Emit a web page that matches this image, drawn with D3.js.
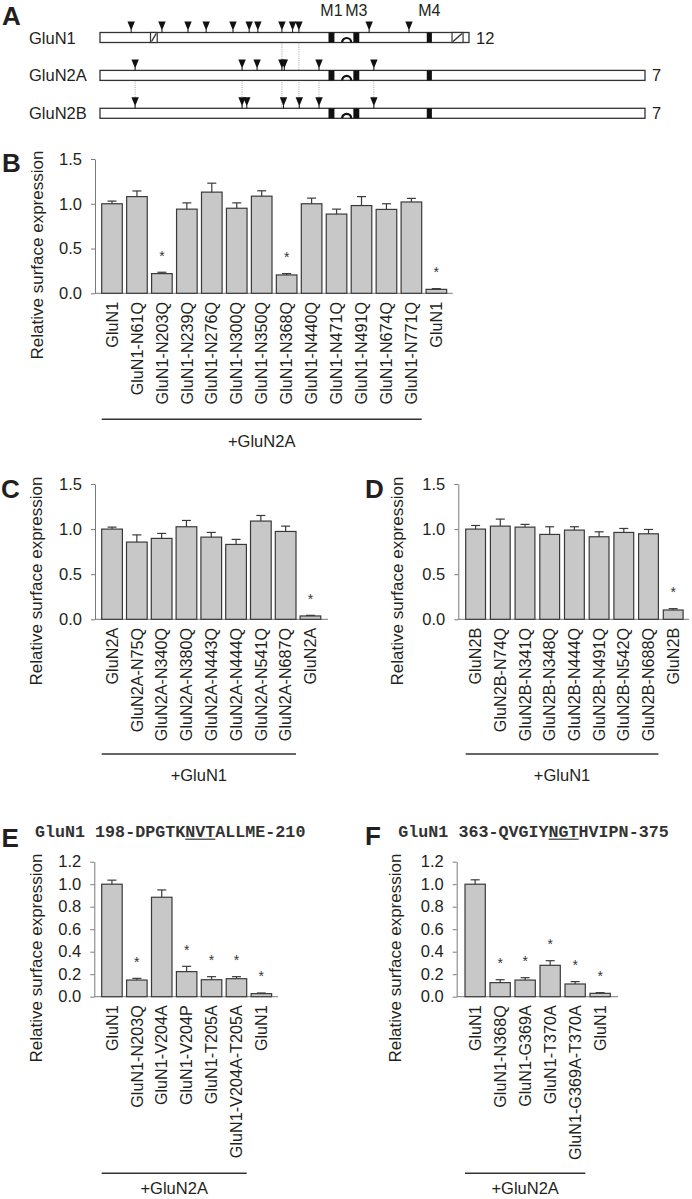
<!DOCTYPE html>
<html><head><meta charset="utf-8">
<script src="https://cdn.jsdelivr.net/npm/d3@7"></script>
<style>
body{margin:0;background:#fff}
svg{display:block}
</style>
</head><body><svg id="c" width="692" height="1199" font-family="'Liberation Sans', Arial, sans-serif" fill="#231f20"></svg>
<script>
// ---------- Panel A (schematic, positions in aligned residue units) ----------
const subunits = ["GluN1", "GluN2A", "GluN2B"];
const subunitLength = [935, 1381, 1381];
const glun1Sites = [79, 157, 223, 269, 337, 378, 400, 461, 488, 504, 682, 783];
const glun2aSites = [89, 360, 398, 461, 467, 555, 694];
const glun2bSites = [89, 360, 372, 465, 505, 555, 694];
const tmSegments = [["M1", 579, 594], ["M3", 642, 657], ["M4", 828, 841]];
const poreLoop = [611, 639];
const glun1Cassettes = [[128, 145], [892, 920]];
const alignLines = [[89, 1, 2], [360, 1, 2], [461, 0, 2], [504, 0, 2], [555, 1, 2], [694, 1, 2]];

// ---------- Panel B ----------
const bCategories = ["GluN1","GluN1-N61Q","GluN1-N203Q","GluN1-N239Q","GluN1-N276Q","GluN1-N300Q","GluN1-N350Q","GluN1-N368Q","GluN1-N440Q","GluN1-N471Q","GluN1-N491Q","GluN1-N674Q","GluN1-N771Q","GluN1"];
const bValues = [1.00, 1.08, 0.22, 0.94, 1.13, 0.95, 1.085, 0.205, 1.00, 0.885, 0.98, 0.937, 1.02, 0.044];
const bErrors = [0.03, 0.063, 0.015, 0.07, 0.10, 0.06, 0.06, 0.015, 0.063, 0.055, 0.10, 0.063, 0.04, 0.008];
const bSig = [0,0,1,0,0,0,0,1,0,0,0,0,0,1];

// ---------- Panel C ----------
const cCategories = ["GluN2A","GluN2A-N75Q","GluN2A-N340Q","GluN2A-N380Q","GluN2A-N443Q","GluN2A-N444Q","GluN2A-N541Q","GluN2A-N687Q","GluN2A"];
const cValues = [1.00, 0.856, 0.897, 1.026, 0.911, 0.830, 1.089, 0.974, 0.037];
const cErrors = [0.022, 0.08, 0.055, 0.07, 0.052, 0.056, 0.062, 0.059, 0.007];
const cSig = [0,0,0,0,0,0,0,0,1];

// ---------- Panel D ----------
const dCategories = ["GluN2B","GluN2B-N74Q","GluN2B-N341Q","GluN2B-N348Q","GluN2B-N444Q","GluN2B-N491Q","GluN2B-N542Q","GluN2B-N688Q","GluN2B"];
const dValues = [1.00, 1.033, 1.022, 0.941, 0.989, 0.915, 0.963, 0.948, 0.103];
const dErrors = [0.04, 0.078, 0.03, 0.085, 0.037, 0.055, 0.044, 0.048, 0.015];
const dSig = [0,0,0,0,0,0,0,0,1];

// ---------- Panel E ----------
const eCategories = ["GluN1","GluN1-N203Q","GluN1-V204A","GluN1-V204P","GluN1-T205A","GluN1-V204A-T205A","GluN1"];
const eValues = [1.00, 0.148, 0.884, 0.223, 0.151, 0.160, 0.027];
const eErrors = [0.036, 0.015, 0.065, 0.047, 0.027, 0.018, 0.006];
const eSig = [0,1,0,1,1,1,1];
const eTitle = ["GluN1 198-DPGTK", "NVT", "ALLME-210"];

// ---------- Panel F ----------
const fCategories = ["GluN1","GluN1-N368Q","GluN1-G369A","GluN1-T370A","GluN1-G369A-T370A","GluN1"];
const fValues = [1.00, 0.125, 0.148, 0.279, 0.113, 0.030];
const fErrors = [0.039, 0.026, 0.021, 0.041, 0.021, 0.006];
const fSig = [0,1,1,1,1,1];
const fTitle = ["GluN1 363-QVGIY", "NGT", "HVIPN-375"];

const ticks15 = [0, 0.5, 1.0, 1.5];
const ticks12 = [0, 0.2, 0.4, 0.6, 0.8, 1.0, 1.2];
const yTitle = "Relative surface expression";

const svg = d3.select("#c");
const SANS = "'Liberation Sans', Arial, sans-serif";
const MONO = "'Liberation Mono', 'Courier New', monospace";
const INK = "#231f20", AX = "#7a7a7a", BARFILL = "#c8c8c8", BARSTROKE = "#3a3a3a";

function letter(t, x, y) {
  svg.append("text").attr("x", x).attr("y", y).attr("font-size", 26).attr("font-weight", "bold").attr("fill", INK).text(t);
}

// ---------- draw panel A ----------
(function () {
  const sitesAll = [glun1Sites, glun2aSites, glun2bSites];
  const xs = d3.scaleLinear().domain([0, 1381]).range([100, 645]);
  const yc = d3.scalePoint().domain(subunits).range([37.5, 113.3]);
  const bh = 10;
  letter("A", 2, 25);
  const g = svg.append("g");
  alignLines.forEach(([u, r0, r1]) => {
    g.append("line").attr("x1", xs(u)).attr("x2", xs(u))
      .attr("y1", yc(subunits[r0]) + bh / 2).attr("y2", yc(subunits[r1]) - bh / 2 - 1)
      .attr("stroke", "#9a9a9a").attr("stroke-width", 0.9).attr("stroke-dasharray", "1,1.2");
  });
  subunits.forEach((s, i) => {
    const cy = yc(s), top = cy - bh / 2, bot = cy + bh / 2;
    g.append("text").attr("x", 29).attr("y", cy + 6).attr("font-size", 16.5).attr("fill", INK).text(s);
    g.append("rect").attr("x", xs(0)).attr("y", top).attr("width", xs(subunitLength[i]) - xs(0)).attr("height", bh)
      .attr("fill", "#fff").attr("stroke", "#333").attr("stroke-width", 1.3);
    if (i === 0) {
      glun1Cassettes.forEach(([a, b]) => {
        g.append("rect").attr("x", xs(a)).attr("y", top).attr("width", xs(b) - xs(a)).attr("height", bh)
          .attr("fill", "#fff").attr("stroke", "#333").attr("stroke-width", 1.2);
        g.append("line").attr("x1", xs(a) + 1).attr("y1", bot - 1).attr("x2", xs(b) - 1).attr("y2", top + 1)
          .attr("stroke", "#333").attr("stroke-width", 1.4);
      });
    }
    tmSegments.forEach(([n, a, b]) => {
      g.append("rect").attr("x", xs(a)).attr("y", top).attr("width", xs(b) - xs(a)).attr("height", bh).attr("fill", "#111");
    });
    const la = xs(poreLoop[0]), lb = xs(poreLoop[1]), r = (lb - la) / 2;
    g.append("path").attr("d", `M${la + 1},${bot} A${r - 1},${r - 1} 0 0 1 ${lb - 1},${bot}`)
      .attr("fill", "none").attr("stroke", "#111").attr("stroke-width", 2.2);
    sitesAll[i].forEach(u => {
      const x = xs(u);
      g.append("path").attr("d", `M${x - 3.7},${top - 11} L${x + 3.7},${top - 11} L${x},${top - 2} Z`).attr("fill", "#111");
      g.append("line").attr("x1", x).attr("x2", x).attr("y1", top - 3).attr("y2", top).attr("stroke", "#111").attr("stroke-width", 1);
    });
    g.append("text").attr("x", xs(subunitLength[i]) + 7).attr("y", cy + 6).attr("font-size", 16.5).attr("fill", INK).text(sitesAll[i].length);
  });
  tmSegments.forEach(([n, a, b]) => {
    g.append("text").attr("x", (xs(a) + xs(b)) / 2).attr("y", 15.5).attr("font-size", 16).attr("fill", INK)
      .attr("text-anchor", "middle").text(n);
  });
})();

// ---------- bar panels ----------
function barPanel(cfg) {
  const n = cfg.cats.length;
  const p = 1 - cfg.bw / cfg.step;
  const start = cfg.x0 - cfg.step * p / 2;
  const x = d3.scaleBand().domain(d3.range(n)).range([start, start + cfg.step * n]).paddingInner(p).paddingOuter(p / 2);
  const y = d3.scaleLinear().domain([0, cfg.ymax]).range([cfg.y0, cfg.yTop]);
  const g = svg.append("g");
  letter(cfg.letter, cfg.lx, cfg.ly);

  const ax = g.append("g").attr("transform", `translate(${cfg.axisX},0)`)
    .call(d3.axisLeft(y).tickValues(cfg.ticks).tickFormat(d3.format(".1f")).tickSize(4).tickSizeOuter(0).tickPadding(9));
  ax.attr("font-family", SANS).attr("font-size", 16.5);
  ax.select(".domain").attr("stroke", AX).attr("stroke-width", 1);
  ax.selectAll(".tick line").attr("stroke", AX);
  ax.selectAll(".tick text").attr("fill", INK);

  g.append("line").attr("x1", cfg.axisX).attr("x2", cfg.axisEnd).attr("y1", cfg.y0).attr("y2", cfg.y0)
    .attr("stroke", AX).attr("stroke-width", 1);

  g.selectAll(".bar").data(cfg.vals).join("rect")
    .attr("x", (d, i) => x(i)).attr("width", x.bandwidth())
    .attr("y", d => y(d)).attr("height", d => cfg.y0 - y(d))
    .attr("fill", BARFILL).attr("stroke", BARSTROKE).attr("stroke-width", 1.2);

  cfg.vals.forEach((v, i) => {
    const cx = x(i) + x.bandwidth() / 2, yt = y(v + cfg.errs[i]);
    g.append("line").attr("x1", cx).attr("x2", cx).attr("y1", y(v)).attr("y2", yt).attr("stroke", BARSTROKE).attr("stroke-width", 1.2);
    g.append("line").attr("x1", cx - 4.5).attr("x2", cx + 4.5).attr("y1", yt).attr("y2", yt).attr("stroke", BARSTROKE).attr("stroke-width", 1.2);
    if (cfg.sig[i]) {
      g.append("text").attr("x", cx).attr("y", yt - 11.5).attr("text-anchor", "middle").attr("font-size", 14).attr("fill", "#333").text("*");
    }
  });

  cfg.cats.forEach((c, i) => {
    const cx = x(i) + x.bandwidth() / 2;
    g.append("text").attr("transform", `translate(${cx},${cfg.y0 + 8.5}) rotate(-90)`)
      .attr("text-anchor", "end").attr("dy", "0.35em").attr("font-size", 16.2).attr("fill", INK).text(c);
  });

  g.append("text").attr("transform", `translate(${cfg.tx},${cfg.ty}) rotate(-90)`)
    .attr("text-anchor", "middle").attr("dy", "0.35em").attr("font-size", 17).attr("fill", INK).text(yTitle);

  const last = cfg.groupN - 1;
  const ux0 = x(0), ux1 = x(last) + x.bandwidth();
  g.append("line").attr("x1", ux0).attr("x2", ux1).attr("y1", cfg.uy).attr("y2", cfg.uy).attr("stroke", "#333").attr("stroke-width", 1.6);
  g.append("text").attr("x", (ux0 + ux1) / 2).attr("y", cfg.gy).attr("text-anchor", "middle").attr("font-size", 16.5).attr("fill", INK).text(cfg.group);

  if (cfg.title) {
    const fs = 16.7, cw = fs * 0.6;
    const t = g.append("text").attr("x", cfg.titleX).attr("y", cfg.titleY).attr("font-size", fs)
      .attr("font-weight", "bold").attr("font-family", MONO).attr("fill", "#333");
    t.append("tspan").text(cfg.title[0]);
    t.append("tspan").text(cfg.title[1]);
    t.append("tspan").text(cfg.title[2]);
    const ul0 = cfg.titleX + cfg.title[0].length * cw;
    g.append("line").attr("x1", ul0).attr("x2", ul0 + cfg.title[1].length * cw)
      .attr("y1", cfg.titleY + 2.5).attr("y2", cfg.titleY + 2.5).attr("stroke", "#333").attr("stroke-width", 1.2);
  }
}

barPanel({letter: "B", lx: 2, ly: 172, cats: bCategories, vals: bValues, errs: bErrors, sig: bSig,
  axisX: 95, x0: 101.7, step: 24.95, bw: 20.6, y0: 293.3, yTop: 159, ymax: 1.5, ticks: ticks15, axisEnd: 452.7,
  tx: 37, ty: 255, uy: 419.3, gy: 446.7, groupN: 13, group: "+GluN2A"});
barPanel({letter: "C", lx: 1, ly: 498, cats: cCategories, vals: cValues, errs: cErrors, sig: cSig,
  axisX: 95, x0: 101.7, step: 24.8, bw: 20.7, y0: 619.3, yTop: 484, ymax: 1.5, ticks: ticks15, axisEnd: 328,
  tx: 36, ty: 581, uy: 754, gy: 781, groupN: 8, group: "+GluN1"});
barPanel({letter: "D", lx: 365, ly: 498, cats: dCategories, vals: dValues, errs: dErrors, sig: dSig,
  axisX: 458.3, x0: 465.7, step: 24.7, bw: 19.8, y0: 619.3, yTop: 484, ymax: 1.5, ticks: ticks15, axisEnd: 689,
  tx: 397, ty: 581, uy: 754, gy: 781, groupN: 8, group: "+GluN1"});
barPanel({letter: "E", lx: 1.5, ly: 847, cats: eCategories, vals: eValues, errs: eErrors, sig: eSig,
  axisX: 94.3, x0: 101.7, step: 24.9, bw: 20.5, y0: 996.7, yTop: 861.7, ymax: 1.2, ticks: ticks12, axisEnd: 278,
  tx: 36, ty: 958, uy: 1173.3, gy: 1194, groupN: 6, group: "+GluN2A", title: eTitle, titleX: 35, titleY: 836.7});
barPanel({letter: "F", lx: 365, ly: 845, cats: fCategories, vals: fValues, errs: fErrors, sig: fSig,
  axisX: 456.7, x0: 465, step: 25, bw: 20.3, y0: 996.7, yTop: 861.7, ymax: 1.2, ticks: ticks12, axisEnd: 618,
  tx: 395, ty: 958, uy: 1173.3, gy: 1194, groupN: 5, group: "+GluN2A", title: fTitle, titleX: 398.3, titleY: 836.7});
</script>
</body></html>
